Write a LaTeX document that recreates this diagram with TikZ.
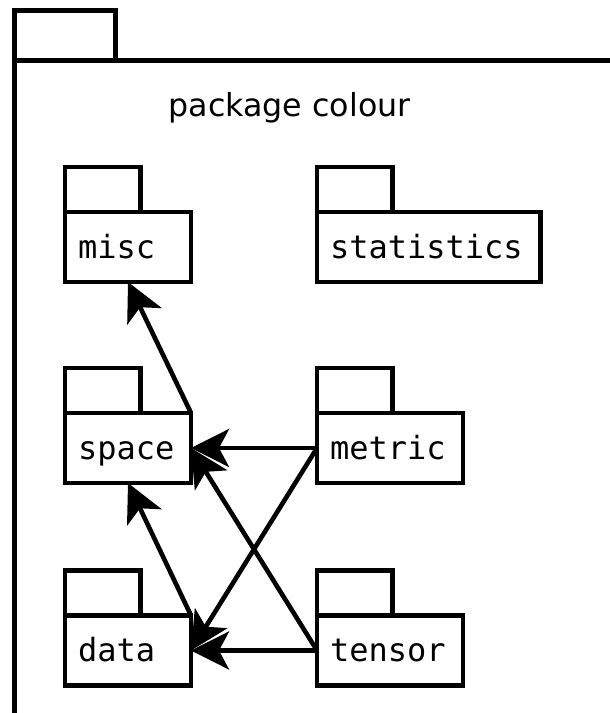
\documentclass[tikz,border=0pt]{standalone}
\usepackage{fontspec}
\setmainfont{DejaVu Sans}
\newfontfamily\monofam{DejaVu Sans Mono}
\usetikzlibrary{arrows.meta}

\begin{document}
\begin{tikzpicture}[x=1pt,y=-1pt,line width=4.6pt,
  pkg/.style={draw,anchor=north west,outer sep=0pt,font=\fontsize{32}{37}\selectfont\monofam,
    inner xsep=13pt,inner ysep=0pt,minimum height=70pt,text height=28pt,text depth=6pt,text width=#1,align=left},
  dep/.style={-{Stealth[length=38pt,width=38pt,inset=10pt]}}]
\useasboundingbox (0,0) rectangle (610,713);
% outer package
\draw (14.5,10.5) rectangle (115.5,60.5);
\draw (14.5,60.5) rectangle (625,715);
\node[anchor=base,font=\fontsize{31.7}{37}\selectfont] (title) at (289.5,116.7) {package colour};
% inner packages
\node[pkg=100pt] (misc) at (65,212) {misc};
\node[pkg=197.5pt] (statistics) at (317,212) {statistics};
\node[pkg=100pt] (space) at (65,413) {space};
\node[pkg=120pt] (metric) at (317,413) {metric};
\node[pkg=100pt] (data) at (65,615.5) {data};
\node[pkg=120pt] (tensor) at (317,615.5) {tensor};
\foreach \p in {misc,statistics,space,metric,data,tensor}
  \draw (\p.north west) rectangle ++(75.5,-45);
% dependencies
\draw[dep] (space.north east)--(misc.south);
\draw[dep] (data.north east)--(space.south);
\draw[dep] (metric.west)--(space.east);
\draw[dep] (metric.west)--(data.east);
\draw[dep] (tensor.west)--(space.east);
\draw[dep] (tensor.west)--(data.east);
\end{tikzpicture}
\end{document}
